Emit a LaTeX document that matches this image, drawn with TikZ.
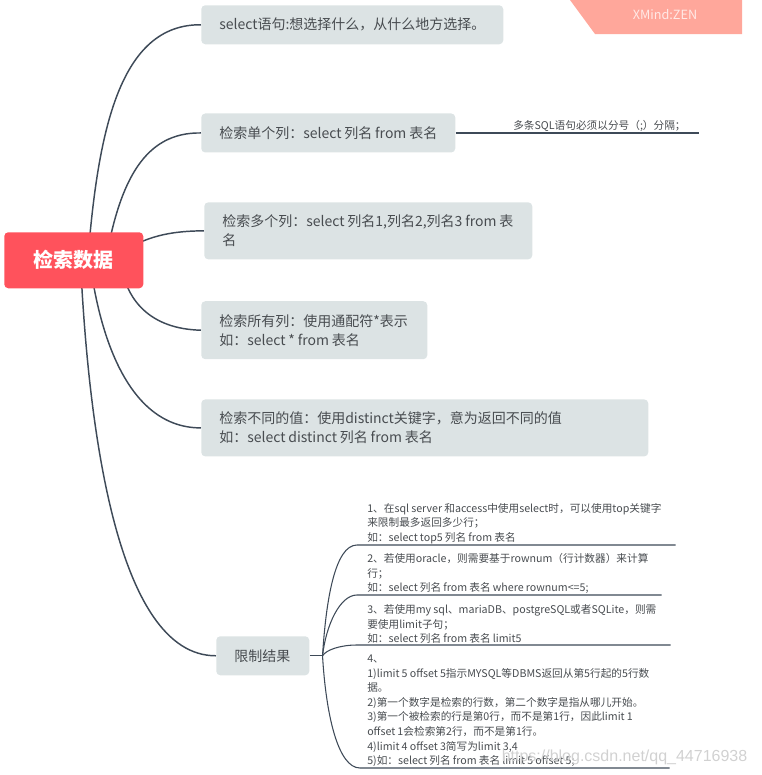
\documentclass[tikz,border=0pt]{standalone}
\usepackage{fontspec}
\setmainfont[WordSpace=0.9]{Noto Sans CJK SC}
\newfontfamily\markfont{Liberation Sans}
\usepackage{xcolor}
\usetikzlibrary{
    positioning,
    backgrounds
}
\definecolor{mapRed}{RGB}{255, 82, 92}
\definecolor{mapGray}{RGB}{220, 227, 228}
\definecolor{mapLine}{RGB}{62, 74, 88}
\definecolor{mapText}{RGB}{72, 76, 80}
\definecolor{mapBanner}{RGB}{255, 167, 155}
\tikzset{
    % 中心のノード
    rootbox/.style={
        rectangle,
        rounded corners=3pt,
        fill=mapRed,
        text=white,
        font=\fontsize{15}{18}\selectfont\bfseries,
        minimum width=104.25pt,
        minimum height=42pt,
        inner sep=0pt
    },
    % 枝のノード
    topic/.style={
        rectangle,
        rounded corners=3pt,
        fill=mapGray,
        text=mapText,
        font=\fontsize{10.5}{14.25}\selectfont,
        align=flush left,
        inner xsep=13.5pt,
        inner ysep=0pt,
        anchor=north west
    },
    % 線の上のテキスト
    subtext/.style={
        text=mapText,
        font=\fontsize{8}{10.9}\selectfont,
        align=flush left,
        inner xsep=0pt,
        inner ysep=0.8pt,
        anchor=south west
    },
    branch/.style={
        draw=mapLine,
        line width=1.1pt
    },
    subbranch/.style={
        draw=mapLine,
        line width=0.8pt
    }
}
\begin{document}
\begin{tikzpicture}[x=0.75pt, y=-0.75pt]
    \useasboundingbox (0,0) rectangle (761,775);

    % 右上のバナー
    \fill[mapBanner] (570,0) -- (595,34) -- (742,34) -- (742,0) -- cycle;
    \node[text=mapBanner!25!white, font=\fontsize{9.5}{11}\selectfont] (banner) at (665,15) {XMind:ZEN};

    % 中心
    \node[rootbox, anchor=north west] (root) at (4,232) {检索数据};

    % 枝
    \node[topic, text width=199.5pt, minimum height=29.25pt] (n1) at (201,5) {select语句:想选择什么，从什么地方选择。};
    \node[topic, text width=163.5pt, minimum height=29.25pt, below=51.5pt of n1.south west, anchor=north west] (n2) {检索单个列：select 列名 from 表名};
    \node[topic, text width=219pt, minimum height=42.75pt, below=37pt of n2.south west, anchor=north west, xshift=2.25pt] (n3) {检索多个列：select 列名1,列名2,列名3 from 表\\名};
    \node[topic, text width=142.5pt, minimum height=43.5pt, below=31pt of n3.south west, anchor=north west, xshift=-2.25pt] (n4) {检索所有列：使用通配符*表示\\如：select * from 表名};
    \node[topic, text width=308.25pt, minimum height=42.75pt, below=29.75pt of n4.south west, anchor=north west] (n5) {检索不同的值：使用distinct关键字，意为返回不同的值\\如：select distinct 列名 from 表名};
    \node[topic, text width=42.75pt, minimum height=29.25pt, below=134.5pt of n5.south west, anchor=north west, xshift=11.25pt] (n6) {限制结果};

    % 線の上のテキスト
    \node[subtext, text width=231pt] (s1) at (367,545) {1、在sql server 和access中使用select时，可以使用top关键字\\来限制最多返回多少行；\\如：select top5 列名 from 表名};
    \node[subtext, text width=220.5pt] (s2) at (367,595) {2、若使用oracle，则需要基于rownum（行计数器）来计算\\行；\\如：select 列名 from 表名 where rownum<=5;};
    \node[subtext, text width=227.25pt] (s3) at (367,645) {3、若使用my sql、mariaDB、postgreSQL或者SQLite，则需\\要使用limit子句；\\如：select 列名 from 表名 limit5};
    \node[subtext, text width=226.5pt] (s4) at (367,768) {4、\\1)limit 5 offset 5指示MYSQL等DBMS返回从第5行起的5行数\\据。\\2)第一个数字是检索的行数，第二个数字是指从哪儿开始。\\3)第一个被检索的行是第0行，而不是第1行，因此limit 1\\offset 1会检索第2行，而不是第1行。\\4)limit 4 offset 3简写为limit 3,4\\5)如：select 列名 from 表名 limit 5 offset 5;};
    \node[subtext, text width=138.75pt, anchor=south west] (note) at (513,132.5) {多条SQL语句必须以分号（;）分隔；};

    \coordinate[right=9.75pt of n6.east] (hub);

    % 線の描画
    \begin{scope}[on background layer]
        \draw[branch] ([xshift=10.5pt]root.center) .. controls (98,130) and (120,24) .. (n1.west);
        \draw[branch] ([xshift=24pt]root.center) .. controls (120,180) and (145,132) .. (n2.west);
        \draw[branch] ([xshift=27pt]root.center) .. controls (140,238) and (165,231) .. (n3.west);
        \draw[branch] ([xshift=35pt]root.center) .. controls (125,300) and (150,329) .. (n4.west);
        \draw[branch] ([xshift=12pt]root.center) .. controls (100,340) and (130,428) .. (n5.west);
        \draw[branch] ([xshift=5pt]root.center) .. controls (88,420) and (115,656) .. (n6.west);
        \draw[subbranch] (n2.east) -- (n2.east -| note.south east);
        \draw[subbranch] (n6.east) -- (hub);
        \draw[subbranch] (hub) .. controls (326,600) and (335,545) .. ([xshift=-7.5pt]s1.south west) -- (s1.south east);
        \draw[subbranch] (hub) .. controls (326,625) and (340,595) .. ([xshift=-7.5pt]s2.south west) -- (s2.south east);
        \draw[subbranch] (hub) .. controls (326,650) and (340,645) .. ([xshift=-7.5pt]s3.south west) -- (s3.south east);
        \draw[subbranch] (hub) .. controls (326,715) and (338,768) .. ([xshift=-5.25pt]s4.south west) -- (s4.south east);
    \end{scope}

    % 透かし
    \node[text=black!18, font=\markfont\fontsize{12}{15}\selectfont, anchor=east] (mark) at (752,757) {https://blog.csdn.net/qq\_44716938};
\end{tikzpicture}
\end{document}
